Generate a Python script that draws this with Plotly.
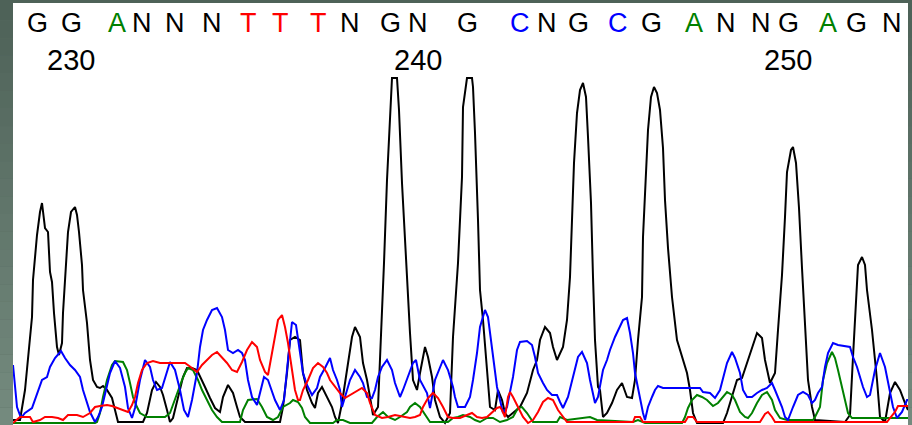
import plotly.graph_objects as go

# ---- Sequencing trace data (scan position -> signal intensity) ----
g_scan = [13, 17, 20, 25, 28, 32, 33, 37, 40, 42, 45, 48, 50, 52, 54, 57, 59, 62, 63, 65, 68, 71, 75, 77, 79,
          82, 83, 87, 90, 93, 97, 100, 103, 107, 112, 115, 118, 143, 147, 152, 156, 160, 163, 167, 170, 173,
          178, 183, 187, 192, 197, 200, 205, 210, 215, 220, 223, 228, 233, 237, 240, 245, 280, 283, 287, 290,
          295, 300, 303, 307, 312, 315, 318, 322, 327, 332, 335, 338, 342, 347, 352, 355, 360, 363, 367, 370,
          373, 378, 381, 384, 387, 390, 392, 397, 399, 402, 405, 407, 410, 413, 417, 420, 425, 428, 432, 435,
          440, 445, 450, 453, 458, 462, 463, 467, 472, 473, 475, 478, 480, 483, 487, 490, 495, 498, 502, 505,
          508, 513, 520, 527, 533, 537, 540, 545, 550, 553, 557, 563, 567, 570, 572, 574, 577, 580, 583, 586,
          588, 591, 593, 595, 598, 600, 603, 607, 612, 617, 622, 627, 632, 635, 638, 642, 643, 646, 648, 651,
          654, 657, 660, 663, 665, 668, 672, 677, 682, 687, 690, 693, 697, 723, 727, 732, 737, 742, 747, 752,
          757, 762, 765, 770, 775, 778, 782, 785, 787, 791, 793, 796, 799, 802, 805, 808, 812, 815, 845, 850,
          853, 857, 858, 862, 865, 867, 872, 877, 880, 885, 890, 895, 900, 905, 908]
g_signal = [3, 3, 3, 33, 66, 106, 143, 188, 211, 220, 195, 191, 151, 141, 110, 76, 68, 80, 110, 148, 191, 211, 216,
            208, 191, 158, 133, 100, 63, 43, 36, 35, 37, 33, 25, 13, 1, 1, 10, 33, 41, 36, 28, 13, 1, 5, 26, 46,
            55, 55, 53, 46, 36, 25, 15, 11, 26, 38, 30, 16, 6, 1, 1, 16, 50, 83, 86, 83, 50, 33, 20, 15, 30, 36,
            26, 16, 6, 0, 20, 53, 86, 96, 86, 60, 43, 26, 8, 16, 83, 160, 243, 313, 345, 345, 313, 240, 180, 136,
            90, 43, 33, 50, 76, 66, 46, 23, 6, 0, 10, 86, 160, 246, 316, 345, 345, 336, 290, 203, 133, 103, 50,
            16, 13, 33, 23, 10, 6, 10, 16, 30, 53, 63, 83, 96, 90, 76, 63, 76, 103, 146, 200, 260, 310, 333, 340,
            326, 286, 220, 146, 83, 36, 33, 6, 10, 20, 33, 40, 26, 25, 43, 83, 126, 186, 246, 293, 326, 336, 330,
            313, 275, 223, 175, 126, 83, 66, 50, 33, 10, 0, 0, 10, 26, 43, 45, 60, 73, 90, 85, 63, 40, 50, 93,
            148, 206, 251, 273, 276, 260, 215, 155, 93, 43, 16, 3, 1, 8, 66, 136, 158, 166, 158, 133, 93, 43, 6,
            1, 30, 41, 33, 20, 13]

c_scan = [13, 15, 17, 21, 25, 32, 37, 42, 47, 50, 55, 61, 65, 70, 75, 80, 83, 87, 90, 95, 98, 102, 105, 110, 115,
          120, 125, 128, 132, 135, 140, 145, 150, 153, 157, 162, 166, 170, 175, 180, 184, 188, 192, 197, 200,
          203, 207, 212, 217, 222, 225, 228, 233, 238, 242, 245, 248, 252, 257, 264, 268, 275, 280, 284, 288,
          292, 296, 299, 303, 307, 312, 317, 320, 325, 330, 333, 337, 340, 342, 345, 350, 355, 360, 363, 367,
          372, 375, 378, 382, 387, 392, 395, 400, 403, 408, 413, 416, 420, 427, 430, 435, 440, 443, 448, 453,
          455, 458, 465, 470, 473, 477, 480, 485, 488, 490, 493, 497, 500, 503, 507, 510, 513, 517, 520, 527,
          532, 535, 538, 543, 547, 552, 557, 560, 563, 568, 572, 575, 578, 582, 587, 590, 592, 595, 598, 600,
          603, 607, 610, 615, 620, 623, 627, 630, 633, 635, 637, 640, 643, 645, 648, 652, 655, 658, 663, 700,
          703, 710, 715, 720, 723, 727, 732, 735, 740, 743, 747, 752, 757, 762, 767, 772, 775, 778, 782, 785,
          788, 793, 798, 803, 808, 812, 815, 818, 822, 825, 828, 833, 838, 850, 853, 857, 860, 863, 867, 870,
          875, 880, 885, 888, 893, 897, 902, 907, 910]
c_signal = [58, 36, 16, 5, 10, 15, 30, 43, 46, 56, 65, 72, 65, 58, 53, 46, 33, 20, 11, 1, 6, 16, 30, 50, 62, 55,
            36, 15, 5, 15, 43, 63, 56, 43, 33, 35, 48, 61, 53, 33, 13, 6, 23, 50, 76, 93, 103, 113, 115, 106, 93,
            73, 70, 73, 70, 63, 43, 26, 18, 46, 43, 23, 13, 23, 63, 101, 98, 78, 50, 38, 28, 35, 46, 55, 65, 53,
            43, 33, 16, 26, 43, 53, 46, 40, 26, 25, 33, 46, 56, 63, 53, 40, 26, 33, 46, 60, 63, 43, 30, 15, 43,
            56, 63, 53, 36, 26, 16, 16, 26, 43, 70, 96, 113, 106, 90, 63, 36, 23, 10, 16, 30, 46, 73, 81, 82, 78,
            66, 50, 40, 33, 28, 28, 21, 15, 26, 43, 56, 66, 71, 60, 43, 33, 20, 26, 36, 53, 63, 73, 86, 96, 103,
            105, 90, 70, 50, 40, 23, 10, 3, 16, 26, 33, 37, 35, 35, 31, 30, 25, 33, 46, 60, 71, 65, 50, 33, 26,
            26, 30, 33, 35, 40, 33, 26, 16, 6, 3, 16, 28, 31, 28, 20, 23, 30, 36, 56, 70, 80, 78, 76, 66, 56, 46,
            36, 26, 28, 53, 70, 56, 40, 16, 5, 11, 23, 23]

a_scan = [13, 95, 97, 100, 103, 107, 112, 115, 123, 127, 130, 133, 137, 140, 147, 157, 165, 170, 177, 182, 185,
          188, 193, 198, 202, 207, 212, 217, 222, 240, 243, 248, 257, 262, 267, 273, 278, 283, 290, 293, 298,
          302, 305, 310, 333, 337, 343, 350, 372, 377, 383, 388, 395, 400, 407, 410, 415, 420, 425, 430, 448,
          453, 458, 463, 470, 475, 480, 487, 493, 500, 507, 513, 518, 522, 527, 533, 557, 560, 567, 580, 590,
          597, 633, 638, 645, 682, 685, 688, 692, 697, 702, 707, 713, 718, 723, 727, 732, 735, 740, 745, 748,
          752, 757, 762, 767, 772, 775, 780, 787, 813, 815, 820, 823, 827, 832, 835, 838, 842, 845, 848, 852,
          910]
a_signal = [0, 0, 1, 10, 26, 43, 58, 62, 61, 53, 40, 26, 16, 10, 6, 6, 6, 10, 30, 43, 50, 55, 53, 43, 33, 23,
            13, 6, 1, 1, 13, 23, 24, 16, 6, 3, 6, 16, 20, 23, 21, 15, 6, 0, 0, 3, 3, 0, 0, 6, 11, 6, 3, 6, 11,
            16, 20, 16, 8, 1, 1, 5, 6, 8, 6, 3, 1, 5, 5, 1, 3, 6, 15, 16, 10, 1, 1, 6, 3, 5, 6, 3, 1, 3, 0, 0,
            6, 15, 23, 28, 26, 23, 17, 20, 26, 31, 28, 23, 11, 6, 5, 10, 20, 28, 31, 23, 13, 5, 3, 3, 6, 16, 43,
            60, 71, 65, 53, 36, 26, 10, 5, 5]

t_scan = [13, 17, 20, 30, 33, 40, 45, 52, 58, 63, 68, 77, 83, 90, 95, 100, 107, 112, 117, 123, 128, 132, 135,
          138, 142, 147, 153, 160, 185, 192, 197, 202, 207, 212, 217, 222, 227, 232, 237, 242, 247, 252, 257,
          260, 265, 268, 272, 275, 278, 282, 285, 288, 292, 295, 298, 300, 303, 308, 313, 318, 323, 327, 330,
          335, 340, 345, 350, 355, 362, 367, 370, 375, 382, 388, 395, 400, 410, 415, 420, 423, 428, 433, 438,
          443, 448, 453, 460, 467, 472, 477, 482, 487, 493, 497, 500, 502, 505, 508, 510, 513, 518, 523, 528,
          533, 538, 543, 548, 553, 558, 563, 567, 633, 635, 640, 643, 685, 688, 693, 697, 760, 765, 768, 772,
          775, 887, 890, 895, 898, 910]
t_signal = [0, 3, 6, 6, 1, 3, 6, 6, 5, 3, 8, 8, 6, 10, 16, 17, 18, 17, 15, 13, 11, 18, 26, 40, 53, 60, 62, 60,
            60, 55, 51, 58, 63, 68, 71, 66, 60, 53, 51, 61, 73, 81, 76, 63, 51, 48, 70, 90, 103, 108, 96, 80, 53,
            33, 23, 23, 33, 43, 55, 60, 56, 50, 43, 36, 30, 25, 28, 31, 35, 30, 20, 8, 5, 6, 8, 7, 5, 6, 8, 16,
            25, 30, 25, 16, 6, 5, 5, 8, 10, 6, 5, 6, 11, 15, 16, 13, 6, 26, 31, 26, 16, 6, 0, 3, 11, 21, 25, 23,
            13, 6, 1, 1, 6, 6, 1, 1, 6, 6, 1, 1, 9, 11, 6, 1, 1, 5, 11, 17, 17]

# ---- Base calls and their scan positions ----
first_base = 229
base_calls = ["G", "G", "A", "N", "N", "N", "T", "T", "T", "N", "G", "N", "G",
              "C", "N", "G", "C", "G", "A", "N", "N", "G", "A", "G", "N"]
base_pos = [37, 71, 117, 142, 175, 212, 248, 280, 318, 350, 390, 418, 467,
            520, 547, 578, 618, 651, 694, 726, 761, 788, 828, 856, 892]

colors = {"A": "#008000", "C": "#0000ff", "G": "#000000", "T": "#ff0000", "N": "#000000"}

W, H = 912, 425
ML, MR, MT, MB = 13, 4, 3, 0
PW, PH = W - ML - MR, H - MT - MB

fig = go.Figure()
for name, xs, ys in [("G", g_scan, g_signal), ("A", a_scan, a_signal),
                     ("C", c_scan, c_signal), ("T", t_scan, t_signal)]:
    fig.add_trace(go.Scatter(x=xs, y=ys, mode="lines", name=name,
                             line=dict(color=colors[name], width=2),
                             hoverinfo="skip"))

annotations = []
for i, (b, p) in enumerate(zip(base_calls, base_pos)):
    annotations.append(dict(x=p, y=1 - 20 / PH, xref="x", yref="paper", text=b,
                            showarrow=False, xanchor="center", yanchor="middle",
                            font=dict(family="Liberation Sans", size=27, color=colors[b])))
    num = first_base + i
    if num % 10 == 0:
        annotations.append(dict(x=p, y=1 - 57 / PH, xref="x", yref="paper", text=str(num),
                                showarrow=False, xanchor="center", yanchor="middle",
                                font=dict(family="Liberation Sans", size=29, color="#000000")))

# grey window frame, slightly lighter towards the bottom
shapes = []
top_rgb, bot_rgb = (78, 98, 88), (116, 138, 126)
n_bands = 24
for k in range(n_bands):
    f = k / (n_bands - 1)
    col = "rgb(%d,%d,%d)" % tuple(round(top_rgb[j] + (bot_rgb[j] - top_rgb[j]) * f) for j in range(3))
    y1 = 1 - k / n_bands
    y0 = 1 - (k + 1) / n_bands
    for x0, x1 in [(-ML / PW - 0.01, 0), (1, 1 + MR / PW + 0.01)]:
        shapes.append(dict(type="rect", xref="paper", yref="paper", x0=x0, x1=x1,
                           y0=y0, y1=y1, fillcolor=col, line=dict(width=0), layer="below"))
shapes.append(dict(type="rect", xref="paper", yref="paper", x0=-0.02, x1=1.02,
                   y0=1, y1=1 + MT / PH + 0.01, fillcolor="rgb(78,98,88)",
                   line=dict(width=0), layer="below"))

fig.update_layout(
    width=W, height=H,
    margin=dict(l=ML, r=MR, t=MT, b=MB, pad=0),
    paper_bgcolor="rgb(90,110,100)",
    plot_bgcolor="#ffffff",
    showlegend=False,
    xaxis=dict(range=[ML, W - MR], visible=False, fixedrange=True),
    yaxis=dict(range=[-2, PH - 2], visible=False, fixedrange=True),
    annotations=annotations,
    shapes=shapes,
)

fig.write_html("out.html")
